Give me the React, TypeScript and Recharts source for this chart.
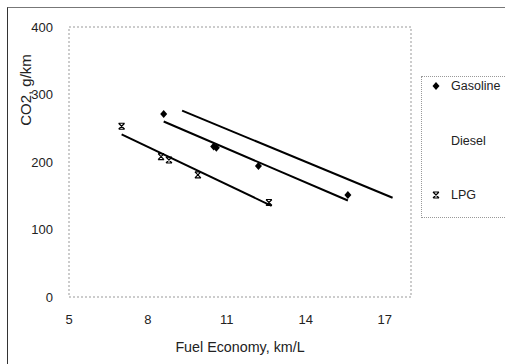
import React from "react";
import { ComposedChart, XAxis, YAxis, Scatter, Line, ReferenceArea } from "recharts";

const gasolineX = [8.6, 10.5, 10.6, 12.2, 15.6];
const gasolineY = [271, 223, 221, 194, 151];
const lpgX = [7.0, 8.5, 8.8, 9.9, 12.6];
const lpgY = [253, 208, 203, 181, 140];
const gasolineFitX = [8.6, 15.6];
const gasolineFitY = [260, 143];
const dieselFitX = [9.3, 17.3];
const dieselFitY = [276, 147];
const lpgFitX = [7.0, 12.7];
const lpgFitY = [241, 135];
const xTicks = [5, 8, 11, 14, 17];
const yTicks = [0, 100, 200, 300, 400];
const seriesNames = ["Gasoline", "Diesel", "LPG"];

const zip = (xs: number[], ys: number[]) => xs.map((x, i) => ({ x, y: ys[i] }));
const gasolineData = zip(gasolineX, gasolineY);
const lpgData = zip(lpgX, lpgY);
const gasolineFit = zip(gasolineFitX, gasolineFitY);
const dieselFit = zip(dieselFitX, dieselFitY);
const lpgFit = zip(lpgFitX, lpgFitY);

const FONT = "'Liberation Sans', Arial, sans-serif";

const Diamond = (props: any) => {
  const { cx, cy } = props;
  if (cx == null || cy == null) return null;
  return <path d={`M${cx},${cy - 4} L${cx + 3.5},${cy} L${cx},${cy + 4} L${cx - 3.5},${cy} Z`} fill="#000" />;
};

const Star = (props: any) => {
  const { cx, cy } = props;
  if (cx == null || cy == null) return null;
  const s = 3;
  return (
    <path
      d={`M${cx - s},${cy - s} L${cx + s},${cy + s} M${cx + s},${cy - s} L${cx - s},${cy + s} M${cx - s},${cy - s} L${cx + s},${cy - s} M${cx - s},${cy + s} L${cx + s},${cy + s}`}
      stroke="#000"
      strokeWidth={1.2}
      fill="none"
    />
  );
};

export default function App() {
  return (
    <div style={{ position: "absolute", left: 0, top: 0, width: 505, height: 364, background: "#fff", fontFamily: FONT }}>
      <div style={{ position: "absolute", left: 7, top: 7, width: 498, height: 357, borderTop: "1px solid #777", borderLeft: "1px solid #333" }} />
      <ComposedChart width={505} height={364} margin={{ top: 27, right: 94, bottom: 17, left: 0 }}>
        <ReferenceArea x1={5} x2={18} y1={0} y2={400} fill="none" stroke="#999" strokeDasharray="2 2" ifOverflow="visible" />
        <XAxis
          type="number"
          dataKey="x"
          domain={[5, 18]}
          ticks={xTicks}
          allowDataOverflow
          axisLine={false}
          tickLine={false}
          height={50}
          tickMargin={12}
          tick={{ fontSize: 13, fill: "#222", fontFamily: FONT }}
          label={{ value: "Fuel Economy, km/L", position: "insideBottom", offset: -5, fontSize: 14.3, fill: "#222", fontFamily: FONT }}
        />
        <YAxis
          type="number"
          dataKey="y"
          domain={[0, 400]}
          ticks={yTicks}
          axisLine={false}
          tickLine={false}
          width={69}
          tickMargin={10}
          tick={{ fontSize: 13, fill: "#222", fontFamily: FONT }}
        />
        <Line data={gasolineFit} dataKey="y" type="linear" stroke="#000" strokeWidth={2} dot={false} isAnimationActive={false} />
        <Line data={dieselFit} dataKey="y" type="linear" stroke="#000" strokeWidth={2} dot={false} isAnimationActive={false} />
        <Line data={lpgFit} dataKey="y" type="linear" stroke="#000" strokeWidth={2} dot={false} isAnimationActive={false} />
        <Scatter data={gasolineData} dataKey="y" shape={<Diamond />} isAnimationActive={false} />
        <Scatter data={lpgData} dataKey="y" shape={<Star />} isAnimationActive={false} />
      </ComposedChart>
      <div
        style={{
          position: "absolute",
          left: 25,
          top: 90,
          transform: "translate(-50%, -50%) rotate(-90deg)",
          fontSize: 15,
          lineHeight: "15px",
          color: "#222",
          whiteSpace: "nowrap",
        }}
      >
        CO2, g/km
      </div>
      <div
        style={{
          position: "absolute",
          left: 421,
          top: 76,
          width: 90,
          height: 142,
          borderLeft: "1px dotted #999",
          borderTop: "1px dotted #999",
          borderBottom: "1px dotted #999",
          boxSizing: "border-box",
          fontSize: 12.5,
          color: "#222",
        }}
      >
        {seriesNames.map((name, i) => (
          <div key={name} style={{ position: "absolute", left: 0, top: 2 + i * 54.5, height: 14, width: 90 }}>
            {i !== 1 && (
              <svg width={10} height={10} style={{ position: "absolute", left: 9, top: 2 }}>
                {i === 0 ? <Diamond cx={5} cy={5} /> : <Star cx={5} cy={5} />}
              </svg>
            )}
            <span style={{ position: "absolute", left: 29, top: 0, lineHeight: "14px" }}>{name}</span>
          </div>
        ))}
      </div>
    </div>
  );
}
